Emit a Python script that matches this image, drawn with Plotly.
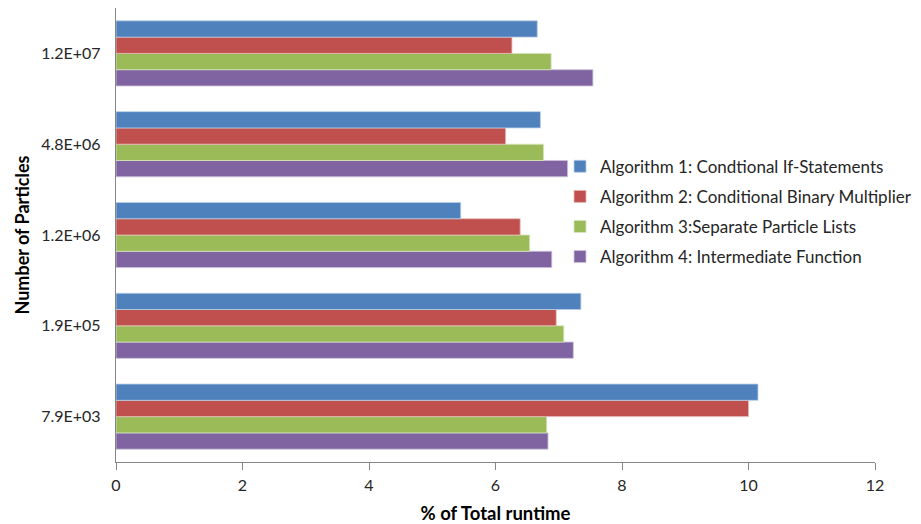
import plotly.graph_objects as go

categories = ["7.9E+03", "1.9E+05", "1.2E+06", "4.8E+06", "1.2E+07"]
alg1 = [10.15, 7.35, 5.45, 6.71, 6.66]
alg2 = [10.00, 6.96, 6.39, 6.16, 6.26]
alg3 = [6.81, 7.08, 6.54, 6.76, 6.88]
alg4 = [6.83, 7.23, 6.89, 7.14, 7.54]
names = [
    "Algorithm 1: Condtional If-Statements",
    "Algorithm 2: Conditional Binary Multiplier",
    "Algorithm 3:Separate Particle Lists",
    "Algorithm 4: Intermediate Function",
]
colors = ["#4F81BD", "#C0504D", "#9BBB59", "#8064A2"]
edges = ["#B9CDE5", "#E6B9B8", "#D7E4BD", "#CCC1DA"]
series = [alg1, alg2, alg3, alg4]

FONT = "Lato"

fig = go.Figure()
# add in reverse so Algorithm 1 sits on top of each group
for i in [3, 2, 1, 0]:
    fig.add_trace(go.Bar(
        y=categories, x=series[i], orientation="h", name=names[i],
        marker=dict(color=colors[i], line=dict(color=edges[i], width=0.8)),
        legendrank=i + 1, legendgroup="g%d" % i,
    ))

# page body has an 8px default margin, so the figure is sized/offset for it
fig.update_layout(
    width=913, height=516,
    margin=dict(l=108, r=46, t=0, b=62, autoexpand=False),
    paper_bgcolor="white", plot_bgcolor="white",
    barmode="group", bargap=0.283, bargroupgap=0,
    font=dict(family=FONT, size=16, color="#262626"),
    showlegend=True,
    legend=dict(
        x=0.585, y=0.69, xanchor="left", yanchor="top",
        bgcolor="rgba(0,0,0,0)", font=dict(family=FONT, size=17, color="#262626"),
        tracegroupgap=5, itemwidth=30,
    ),
    xaxis=dict(
        range=[0, 12], dtick=2, tick0=0, automargin=False,
        showgrid=False, zeroline=False,
        showline=True, linecolor="#868686", linewidth=1.3,
        ticks="outside", ticklen=7, tickcolor="#868686",
        ticklabelstandoff=2,
        tickfont=dict(family=FONT, size=16, color="#262626"),
        title=dict(text="<b>% of Total runtime</b>", font=dict(family=FONT, size=18.5, color="#000000"), standoff=18),
        fixedrange=True,
    ),
    yaxis=dict(
        type="category", categoryorder="array", categoryarray=categories,
        automargin=False,
        showgrid=False, zeroline=False,
        showline=True, linecolor="#868686", linewidth=1.3,
        ticks="", ticklabelstandoff=11,
        tickfont=dict(family=FONT, size=16, color="#262626"),
        title=dict(text="<b>Number of Particles</b>", font=dict(family=FONT, size=18, color="#000000"), standoff=6),
        fixedrange=True,
    ),
)

fig.write_html("out.html")
